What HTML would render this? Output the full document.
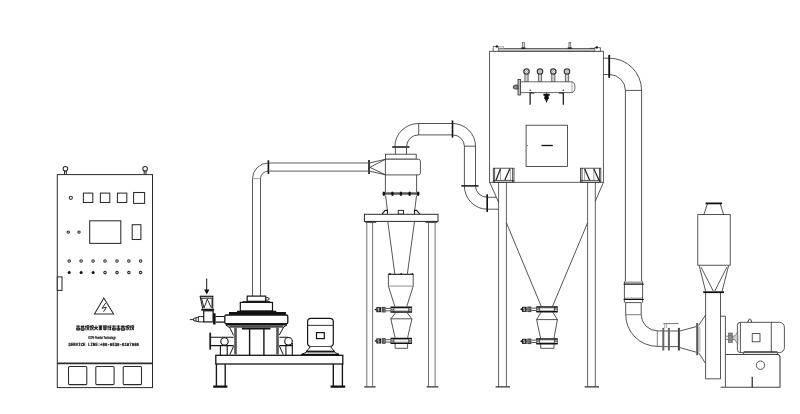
<!DOCTYPE html>
<html><head><meta charset="utf-8">
<style>
html,body{margin:0;padding:0;background:#fff;}
body{width:800px;height:414px;overflow:hidden;font-family:"Liberation Sans",sans-serif;}
svg{display:block;filter:grayscale(1);}
text{text-rendering:geometricPrecision;}
.l{fill:none;stroke:#2a2a2a;stroke-width:0.8;stroke-linejoin:miter;stroke-linecap:butt;}
.w{fill:#fff;stroke:#2a2a2a;stroke-width:0.8;}
#cabinet .l,#cabinet .w{stroke-width:1.05;stroke:#2c2c2c;}
#mill .l,#mill .w{stroke:#151515;}
.t{fill:none;stroke:#111;stroke-width:1.8;}
.t2{fill:none;stroke:#111;stroke-width:1.4;}
.g{fill:#999;stroke:#222;stroke-width:0.8;}
.k{fill:#111;stroke:none;}
</style></head><body>
<svg width="800" height="414" viewBox="0 0 800 414">
<rect width="800" height="414" fill="#fff"/>

<!-- ================= CABINET ================= -->
<g id="cabinet">
<rect class="l" x="57.3" y="174.6" width="95.2" height="213" style="stroke-width:1"/>
<circle class="l" cx="65.4" cy="168.8" r="2.3"/><path class="l" d="M64.5 170.8V174.6M66.3 170.8V174.6"/>
<circle class="l" cx="145.1" cy="168.8" r="2.3"/><path class="l" d="M144.2 171V174.6M146 171V174.6"/>
<circle class="l" cx="70.8" cy="197.8" r="1.6"/>
<rect class="l" x="83.4" y="193.1" width="9.4" height="9.4"/>
<rect class="l" x="100.4" y="193.1" width="9.4" height="9.4"/>
<rect class="l" x="117.4" y="193.1" width="9.4" height="9.4"/>
<rect class="l" x="133.6" y="192.5" width="11" height="10.9"/>
<circle class="l" cx="68.3" cy="232.1" r="1.2"/><circle class="l" cx="79" cy="232.1" r="1.2"/>
<rect class="l" x="89.7" y="220.8" width="31.1" height="22.6"/>
<rect class="l" x="132.2" y="224.7" width="8.7" height="14.8"/>
<g class="l" stroke-width="0.8">
<circle cx="69.2" cy="261" r="1.25"/><circle cx="81.1" cy="261" r="1.25"/><circle cx="93.1" cy="261" r="1.25"/><circle cx="105" cy="261" r="1.25"/><circle cx="117" cy="261" r="1.25"/><circle cx="128.9" cy="261" r="1.25"/><circle cx="140.6" cy="261" r="1.25"/>
<circle cx="105" cy="272.6" r="1.25"/><circle cx="117" cy="272.6" r="1.25"/><circle cx="128.9" cy="272.6" r="1.25"/><circle cx="140.6" cy="272.6" r="1.25"/>
</g>
<circle class="k" cx="69.2" cy="272.6" r="1.5"/><circle class="k" cx="81.1" cy="272.6" r="1.5"/><circle class="k" cx="93.1" cy="272.6" r="1.5"/>
<rect class="w" x="57.3" y="276.9" width="4.7" height="13.5"/>
<path class="l" d="M103.8 298L113.6 313.9H94.5Z"/>
<path class="l" d="M105.7 303L102 308.2L106.4 307.4L103.5 311.8" style="stroke-width:1"/>
<path class="l" d="M57.3 363.3H152.5" style="stroke-width:1.7"/>
<rect class="l" x="68.5" y="366.5" width="18.3" height="18.1" rx="1"/>
<rect class="l" x="95.8" y="366.5" width="18.3" height="18.1" rx="1"/>
<rect class="l" x="123.2" y="366.5" width="18.3" height="18.1" rx="1"/>
<!-- fake CJK text -->
<g id="cjk"><path d="M76.10 326.13L80.00 326.13M78.05 325.40L78.05 330.30M76.10 328.09L80.00 328.09M76.49 330.05L79.61 330.05M76.69 328.09L76.69 330.05M79.42 328.09L79.42 330.05M80.58 326.38L84.48 326.38M81.75 325.40L81.75 327.60M83.31 325.40L83.31 327.60M80.97 327.85L84.09 327.85M80.97 327.85L80.97 330.30M84.09 327.85L84.09 330.30M80.97 329.07L84.09 329.07M80.97 330.30L84.09 330.30M85.85 325.40L85.85 330.30M85.07 326.62L86.63 326.62M87.02 325.64L88.97 325.64M87.21 325.64L87.21 327.85M88.77 325.64L88.77 327.85M87.02 327.85L88.97 327.85M87.99 327.85L87.02 330.30M87.99 327.85L88.97 330.30M90.33 325.40L90.33 330.30M89.55 326.62L91.11 326.62M91.50 325.64L93.45 325.64M91.70 325.64L91.70 327.85M93.26 325.64L93.26 327.85M91.50 327.85L93.45 327.85M92.48 327.85L91.50 330.30M92.48 327.85L93.45 330.30M95.99 325.40L95.99 327.36M94.04 327.36L97.94 327.36M95.99 327.36L94.23 330.30M95.99 327.36L97.74 330.30M95.01 328.83L96.96 328.83M98.52 325.89L102.42 325.89M99.30 325.89L99.30 329.81M101.64 325.89L101.64 329.81M99.30 327.85L101.64 327.85M99.30 329.81L101.64 329.81M100.47 325.89L100.47 329.81M103.01 325.89L106.91 325.89M103.79 325.89L103.79 329.81M106.13 325.89L106.13 329.81M103.79 327.85L106.13 327.85M103.79 329.81L106.13 329.81M104.96 325.89L104.96 329.81M108.08 325.40L108.08 330.30M107.49 326.87L108.86 326.87M109.25 325.89L111.39 325.89M109.25 327.60L111.39 327.60M110.22 325.89L110.22 330.30M109.25 329.32L111.39 329.32M111.98 326.13L115.88 326.13M113.93 325.40L113.93 330.30M111.98 328.09L115.88 328.09M112.37 330.05L115.49 330.05M112.56 328.09L112.56 330.05M115.29 328.09L115.29 330.05M116.46 326.13L120.36 326.13M118.41 325.40L118.41 330.30M116.46 328.09L120.36 328.09M116.85 330.05L119.97 330.05M117.05 328.09L117.05 330.05M119.78 328.09L119.78 330.05M120.95 326.38L124.85 326.38M122.12 325.40L122.12 327.60M123.68 325.40L123.68 327.60M121.34 327.85L124.46 327.85M121.34 327.85L121.34 330.30M124.46 327.85L124.46 330.30M121.34 329.07L124.46 329.07M121.34 330.30L124.46 330.30M126.21 325.40L126.21 330.30M125.43 326.62L126.99 326.62M127.38 325.64L129.33 325.64M127.58 325.64L127.58 327.85M129.14 325.64L129.14 327.85M127.38 327.85L129.33 327.85M128.36 327.85L127.38 330.30M128.36 327.85L129.33 330.30M130.70 325.40L130.70 330.30M129.92 326.62L131.48 326.62M131.87 325.64L133.82 325.64M132.06 325.64L132.06 327.85M133.62 325.64L133.62 327.85M131.87 327.85L133.82 327.85M132.84 327.85L131.87 330.30M132.84 327.85L133.82 330.30" fill="none" stroke="#111" stroke-width="0.9"/></g>
<text x="102" y="338.6" text-anchor="middle" font-family="Liberation Sans, sans-serif" font-weight="bold" font-style="italic" font-size="4.1" textLength="27.4" lengthAdjust="spacingAndGlyphs" fill="#111" stroke="#111" stroke-width="0.18">KCPA Powder Technology</text>
<text x="68.5" y="345.8" font-family="Liberation Mono, monospace" font-weight="bold" font-size="4.6" textLength="70.5" lengthAdjust="spacingAndGlyphs" fill="#111" stroke="#111" stroke-width="0.2">SERVICE LINE:+86-0530-6107066</text>
</g>

<!-- ================= MILL ================= -->
<g id="mill">
<!-- base frame -->
<rect class="w" x="215.8" y="355.3" width="127" height="8.7" style="stroke-width:1.3"/>
<path class="l" d="M216.4 364V386M225.2 364V386M333.3 364V386M342.4 364V386" style="stroke-width:1.35"/>
<path class="t" d="M213.2 386.6H227.4M330.6 386.6H345.2" style="stroke-width:2.2"/>
<!-- vertical pipe -->
<path class="l" d="M252.5 296V178.7A15.9 15.7 0 0 1 268.4 163M260.5 296V178.7A7.9 7.6 0 0 1 268.4 171.1" style="stroke:#333;stroke-width:0.8"/>
<path class="l" d="M252.5 178.7H260.5" style="stroke:#777;stroke-width:0.7"/>
<!-- mill top cap -->
<rect class="w" x="247.2" y="296.1" width="18.5" height="5.2" style="stroke-width:1.2"/>
<rect class="w" x="265.7" y="297.6" width="3.3" height="2.6" rx="1.2" style="stroke-width:1"/>
<path class="l" d="M242.6 301.7H270.2" style="stroke-width:1"/>
<rect class="w" x="240.3" y="302.4" width="32.2" height="8.6" style="stroke-width:1.2"/>
<!-- ring -->
<path class="k" d="M237 310.7H276.3V312.1H285.9V315.4H229V312.1H237Z"/>
<rect class="w" x="224.8" y="315" width="63" height="8.8" rx="1.6" style="stroke-width:1.3"/>
<rect class="k" x="226" y="323.2" width="60.6" height="2.3"/>
<rect x="229.4" y="325.4" width="53.8" height="2.3" fill="#4a4a4a"/>
<rect class="k" x="241.9" y="327.7" width="28.6" height="1.8"/>
<path class="l" d="M225.6 325L229.9 327.8L233.6 335.5M229.9 354.6L233.6 346.2M287 325L283.7 327L279.3 335M279.3 345.7L283.2 354.6" style="stroke-width:1"/>
<!-- body walls -->
<path d="M235.5 327.5V354.6M277.5 327.5V354.6" stroke="#555" stroke-width="2.6" fill="none"/>
<path class="l" d="M249.6 329V355M263.9 329V355" style="stroke-width:1.4"/>
<!-- side pipes -->
<path d="M210.2 332.6V349.6" stroke="#222" stroke-width="1.8" fill="none"/>
<path class="l" d="M211 337.2H233.6M211 345.6H233.6M279.4 337.2H288M279.4 345.6H292.4" style="stroke-width:1.1"/>
<circle class="w" cx="224.5" cy="341.4" r="3.7" style="stroke-width:1.1"/>
<path class="l" d="M220.4 345.6V355M227.2 345.6V355" style="stroke-width:1.1"/>
<circle class="w" cx="288.5" cy="341.3" r="3.8" style="stroke-width:1.1"/>
<path class="l" d="M285.9 345.6V355M292.3 343V355" style="stroke-width:1.1"/>
<!-- feeder -->
<path class="l" d="M206.7 278.5V291" style="stroke-width:1"/>
<path class="k" d="M204.1 289.4H209.4L206.75 294.6Z"/>
<path class="l" d="M199.8 296.3H213.3" style="stroke-width:1.2"/>
<path class="l" d="M200.1 296.4L202.7 308.6M212.8 296.4V308.6M200.6 298.2H212.8" style="stroke-width:1"/>
<path class="l" d="M201.6 298.4L204 307.9L207.3 299.2L211.4 307.9M212 298.4V308" style="stroke-width:0.9"/>
<path d="M201.3 309.7H214.1" stroke="#111" stroke-width="1.9" fill="none"/>
<rect class="w" x="203.7" y="310.8" width="9.4" height="11.1" style="stroke-width:1.2"/>
<path class="l" d="M203.7 316.6H198.4V321.9H203.7M198.4 317L193.6 318.6V320.6L198.4 321.7M196 317.8V321.2M193.6 319.6H189.8" style="stroke-width:0.9"/>
<rect class="k" x="213.1" y="313.3" width="2.5" height="11.2"/>
<path class="l" d="M215.6 316.5H224.6M215.6 322.1H224.6" style="stroke-width:1.1"/>
<!-- motor -->
<rect class="w" x="307.6" y="318.4" width="25.7" height="28.1" rx="3.4" style="stroke-width:1.2"/>
<path class="l" d="M307.6 325.4H333.3" style="stroke-width:1.1;stroke:#444"/>
<rect class="l" x="316.5" y="332.6" width="7.8" height="6" style="stroke-width:1.2"/>
<path class="w" d="M310.4 346.8L306.4 351.4H334.4L330.6 346.8" style="stroke-width:1"/>
<path d="M306 351.6H334.8" stroke="#1a1a1a" stroke-width="1.8" fill="none"/>
<path class="l" d="M306 352.4L301.6 354.4M334.8 352.4L339 354.4" style="stroke-width:1"/>
<path d="M301.2 354.5H339.2" stroke="#111" stroke-width="1.5" fill="none"/>
</g>

<!-- ================= PIPE to cyclone ================= -->
<g id="pipe1">
<path class="t2" d="M268.4 160.3V173.9M369 160V173.9" style="stroke-width:1.6"/>
<path class="l" d="M268.4 163H369M268.4 171.1H369" style="stroke:#555;stroke-width:0.95"/>
<path class="l" d="M369.8 162.9L385.4 159.3L369.8 167.4L385.4 174.8L369.8 171.2"/>
</g>

<!-- ================= CYCLONE ================= -->
<g id="cyclone">
<!-- top outlet pipe -->
<path class="t2" d="M392.2 147H409.6" style="stroke-width:1.5"/>
<path class="l" d="M395.4 147.6V154.2M406.5 147.6V154.2"/>
<path class="l" d="M394.9 146.4A23.8 22.9 0 0 1 418.7 123.5H452.5M406.6 146.4A12.1 11.5 0 0 1 418.7 134.9H452.5"/>
<path class="l" d="M418.7 123.5V134.9"/>
<path class="t2" d="M452.5 120.4V137.6" style="stroke-width:1.6"/>
<path class="l" d="M452.5 123.5A23 22.7 0 0 1 475.5 146.2V186M452.5 134.9A11.9 11.3 0 0 1 464.4 146.2V186M464.4 146.2H475.5"/>
<path class="t2" d="M461.3 185.9H478.6" style="stroke-width:1.5"/>
<path class="l" d="M464.4 186A22.8 23.2 0 0 0 487.2 209.2M475.5 186A11.7 11.2 0 0 0 487.2 197.2"/>
<path class="t2" d="M487.2 194.3V212" style="stroke-width:1.6"/>
<path class="l" d="M487.2 197.3H496.2M487.2 209.2H498.6"/>
<!-- head -->
<rect class="w" x="385.4" y="154.2" width="30.8" height="5"/>
<path class="w" d="M385.4 159.2H418.4A2 2 0 0 1 420.4 161.2V172.9A2 2 0 0 1 418.4 174.9H385.4Z"/>
<path class="l" d="M385.4 174.7V192.4M416.6 174.7V192.4"/>
<rect x="382.7" y="192.3" width="36.7" height="2.4" fill="#555"/>
<g class="k"><ellipse cx="383.9" cy="193.7" rx="1.25" ry="2.3"/><ellipse cx="392.4" cy="193.7" rx="1.25" ry="2.3"/><ellipse cx="400.9" cy="193.7" rx="1.25" ry="2.3"/><ellipse cx="409.6" cy="193.7" rx="1.25" ry="2.3"/><ellipse cx="418.1" cy="193.7" rx="1.25" ry="2.3"/></g>
<path class="l" d="M385.6 195.5L387.4 210.5M416.5 195.5L414.7 210.5"/>
<path class="l" d="M382 214.2L385.1 210.4H387.4V214.2M419.9 214.2L416.6 210.4H414.5V214.2" style="stroke-width:1.1;stroke:#222"/>
<rect class="l" x="398.3" y="210.4" width="5.2" height="3.8" style="stroke-width:1"/>
<!-- platform -->
<rect class="w" x="364.4" y="214.3" width="73.6" height="7.1" style="stroke-width:1"/>
<path d="M365.4 222.2H376.2M425.6 222.2H437.2" stroke="#222" stroke-width="1.3" fill="none"/>
<path class="l" d="M366.8 222.7V386.6M372.6 222.7V386.6M428.5 222.7V386.6M435.1 222.7V386.6" style="stroke:#444;stroke-width:0.75"/>
<path class="t" d="M364.2 386.9H375.6M426.6 386.9H438.4" style="stroke:#333;stroke-width:1.2"/>
<!-- cone -->
<path class="l" d="M387.8 221.6L394.8 273.8M414.5 221.6L407.4 273.8"/>
<path class="t2" d="M388 274.3H413.6" style="stroke-width:1.1"/>
<g class="k"><circle cx="389.9" cy="273.7" r="0.8"/><circle cx="401.2" cy="273.7" r="0.8"/><circle cx="412.3" cy="273.7" r="0.8"/></g>
<path class="l" d="M388.4 274.6V286.1L394.8 306.4M413.2 274.6V286.1L406.8 306.4"/>
<path class="l" d="M388.4 286.1H413.2" style="stroke:#777"/>
</g>

<defs>
<g id="valve">
  <path class="l" d="M-10.3 0.4V5.8M10.3 0.4V5.8M-7.4 0.4V5.8M7.4 0.4V5.8"/>
  <path d="M-10.6 0.7H10.6M-10.6 5.5H10.6" fill="none" stroke="#111" stroke-width="1.5"/>
  <path d="M-7.4 1.9H7.4M-7.4 4.3H7.4" fill="none" stroke="#666" stroke-width="0.5"/>
  <circle cx="-8.8" cy="3.1" r="0.8" class="l" style="stroke-width:0.7"/><circle cx="8.8" cy="3.1" r="0.8" class="l" style="stroke-width:0.7"/>
  <path class="l" d="M-10.4 1.9H-15.7M-10.4 4.3H-15.7" style="stroke-width:0.8"/>
  <rect x="-19.6" y="0.4" width="3.9" height="5.5" fill="#2a2a2a"/>
  <path d="M-18.3 1V5.3M-17 1V5.3" stroke="#ddd" stroke-width="0.5" fill="none"/>
  <rect x="-25" y="0.6" width="4.7" height="5.1" fill="#1c1c1c"/>
  <path d="M-22 1.9H-23.4V3.1H-22.2V4.4H-23.6" stroke="#fff" stroke-width="0.65" fill="none"/>
  <path d="M-27 3.1L-25 1.9V4.3Z" fill="#111"/>
</g>
</defs>

<!-- cyclone valves -->
<g id="cyv">
<use href="#valve" x="401.3" y="306.5"/>
<path class="l" d="M395.7 312.6L390.8 318.8L395.1 337.8M407 312.6L411.9 318.8L407.6 337.8M390.8 318.8H411.9"/>
<use href="#valve" x="401.3" y="337.8"/>
<path class="l" d="M395.1 343.8V348.3H407.6V343.8"/>
</g>

<!-- ================= DUST COLLECTOR ================= -->
<g id="collector">
<rect class="l" x="489.6" y="51.3" width="113.8" height="131" style="stroke:#4a4a4a;stroke-width:0.9"/>
<rect x="493.2" y="48.4" width="107.1" height="2.8" fill="#c4c4c4" stroke="#333" stroke-width="0.7"/>
<rect x="493.2" y="46.6" width="5.3" height="4.6" fill="#fff" stroke="#555" stroke-width="0.7"/>
<rect x="498.5" y="46.8" width="5.3" height="1.6" fill="#e4e4e4" stroke="#777" stroke-width="0.5"/>
<rect x="594.9" y="47.4" width="5.3" height="3.8" fill="#fff" stroke="#555" stroke-width="0.7"/>
<path class="l" d="M589.5 48.3H594.9" style="stroke-width:0.6"/>
<circle class="k" cx="496.8" cy="46.4" r="1.2"/><circle class="k" cx="596.8" cy="47.4" r="1.2"/>
<rect x="522.5" y="42.4" width="1.9" height="5.6" fill="#ccc" stroke="#555" stroke-width="0.6"/>
<rect x="568.9" y="42.4" width="1.9" height="5.6" fill="#ccc" stroke="#555" stroke-width="0.6"/>
<path class="t2" d="M521.2 48.1H525.6M567.7 48.1H572" style="stroke-width:1.1"/>
<!-- pulse valves -->
<g id="pv">
<path d="M524.9 73.4V81.8H528.1V73.4Z" fill="#d0d0d0" stroke="#333" stroke-width="0.7"/>
<circle cx="526.5" cy="71.5" r="2.65" fill="#fff" stroke="#3a3a3a" stroke-width="1.3"/><circle cx="526.5" cy="71.5" r="1" fill="#fff" stroke="#444" stroke-width="0.45"/>
</g>
<use href="#pv" x="13.5"/><use href="#pv" x="26.8"/><use href="#pv" x="40.5"/>
<path class="w" d="M520.1 81.8H572A3 5.4 0 0 1 572 92.6H520.1Z" style="stroke:#444"/>
<path class="l" d="M572 81.8V92.6" style="stroke-width:0.6;stroke:#666"/>
<rect x="518" y="79.4" width="2.5" height="15.6" fill="#bbb" stroke="#333" stroke-width="0.8"/>
<path d="M518 85.1H515L513.4 86V88.2L515 89H518Z" fill="#888" stroke="#333" stroke-width="0.8"/>
<path class="t2" d="M530.1 92.6V104.7M563.3 92.6V104.7" style="stroke-width:1.2"/>
<path class="t2" d="M530.1 93H534.4M563.3 93H559" style="stroke-width:1.1"/>
<circle class="k" cx="530.2" cy="90.2" r="0.7"/><circle class="k" cx="563.2" cy="90.2" r="0.7"/>
<path class="k" d="M543.4 93.8H549.7V95.8H548.6V97.4H549V98.8H548.2L546.55 103L544.9 98.8H544.1V97.4H544.5V95.8H543.4Z"/>
<path class="l" d="M546.55 92.6V94"/>
<!-- door -->
<rect class="l" x="526.1" y="125.2" width="41.5" height="41.3"/>
<path class="t" d="M541.5 145.5H552.8" style="stroke-width:1.3"/>
<path class="l" d="M526.8 145.5H528" style="stroke-width:0.6"/>
<!-- brackets -->
<rect class="l" x="493.3" y="168.2" width="20.7" height="14"/>
<path class="l" d="M493.3 180.4H514M494.6 168.2V182M512.6 168.2V182"/>
<path class="l" d="M500.5 168.2V180.4M510.3 168.2V180.4" style="stroke-width:0.6;stroke:#666"/>
<path class="l" d="M496.1 180L500.5 168.7M504.9 180L509.8 168.7" style="stroke-width:1.3"/>
<rect class="l" x="580.6" y="168.2" width="20.2" height="14"/>
<path class="l" d="M580.6 180.4H600.8M582 168.2V182M599.5 168.2V182"/>
<path class="l" d="M584.7 168.2V180.4M593.8 168.2V180.4" style="stroke-width:0.6;stroke:#666"/>
<path class="l" d="M584.7 168.7L589.6 180.3M593.8 168.7L599 180.3" style="stroke-width:1.3"/>
<!-- legs -->
<path class="l" d="M498.6 182.2V386.6M506.4 182.2V386.6M587.6 182.2V386.6M595.3 182.2V386.6" style="stroke:#3a3a3a"/>
<path class="t" d="M495.6 386.9H510M584.6 386.9H599" style="stroke:#333;stroke-width:1.2"/>
<path class="l" d="M489.7 182.2L498.6 202.4M603.5 182.2L595.3 201.2"/>
<path class="l" d="M506.4 222.8L541.1 306M587.6 222.8L552.7 306"/>
<!-- valves -->
<use href="#valve" x="547" y="306.2"/>
<path class="l" d="M541.1 312.2L536.6 319.6L540.6 338.4M552.9 312.2L557.4 319.6L554 338.4M536.6 319.6H557.4"/>
<use href="#valve" x="547" y="338.2"/>
<path class="l" d="M540.7 344V348.3H554V344"/>
</g>

<!-- ================= RIGHT PIPE ================= -->
<g id="pipe2">
<path class="l" d="M603.5 58.2H609.3M603.5 74.5H609.3"/>
<path class="t" d="M609.2 54.9V77.8" style="stroke-width:1.8"/>
<path class="l" d="M609.3 58.2A32.3 32.2 0 0 1 641.6 90.4V281.3M609.3 74.5A16.1 15.9 0 0 1 625.4 90.4V281.3M625.4 90.4H641.6"/>
<rect x="624.4" y="281.5" width="18.2" height="21.1" fill="#fff" stroke="none"/>
<rect x="624.4" y="281.5" width="18.2" height="2.4" fill="#a0a0a0"/>
<rect x="624.4" y="297.6" width="18.2" height="1.5" fill="#a0a0a0"/>
<path class="l" d="M624.4 281.3V302.6M642.6 281.3V302.6M625.3 302.6H641.4"/>
<path d="M623.6 284.3H643.8M623.6 299.5H643.8" stroke="#111" stroke-width="1.1" fill="none"/>
<path class="l" d="M625.7 302.6V314.5A31.9 31.9 0 0 0 657.6 346.4H662.5M641.2 302.6V314.5A16.4 16.4 0 0 0 657.6 330.9H662.5"/>
<path class="l" d="M625.7 314.7H641.2M657.3 330.9V346.4" style="stroke-width:0.6"/>
<!-- damper -->
<path class="l" d="M662.4 331H679M662.4 346.6H679" style="stroke-width:0.8"/>
<rect x="662.3" y="327.9" width="2" height="22.6" fill="#666"/>
<rect x="667.9" y="327.9" width="2" height="22.6" fill="#666"/>
<rect x="677.9" y="327.9" width="2" height="22.6" fill="#444"/>
<path d="M663.3 323.6H678.6" stroke="#777" stroke-width="1" fill="none"/>
<path d="M664.7 324V328M666.6 324V328" stroke="#777" stroke-width="0.6" fill="none"/>
<path class="l" d="M679.9 331L696.2 326.6M679.9 347.6L696.2 352.2"/>
</g>

<!-- ================= FAN ================= -->
<g id="fan">
<rect x="698" y="326.6" width="2.5" height="25.2" fill="#c4c4c4"/>
<rect x="696.2" y="323" width="1.9" height="32.2" fill="#555"/>
<path class="l" d="M698.5 325.7L705.3 315.3M698.5 352.5L705.3 363.1"/>
<!-- silencer -->
<path class="t" d="M705.6 203.4H722"/>
<path class="l" d="M707.3 204L703.9 214.6M720.3 204L723.6 214.6"/>
<rect class="l" x="697.8" y="214.6" width="32.4" height="50.6"/>
<path class="l" d="M699.2 265.6L705.7 291.6M728.6 265.6L722 291.6M701 267L713.2 291M727 267L714.8 291"/>
<path class="t" d="M703.2 292.2H724"/>
<!-- casing -->
<path class="l" d="M705.6 293V378.8H720.5V293"/>
<path class="l" d="M720.5 316.2H725.4V387.2"/>
<path class="l" d="M720.5 387.2H780V356.5L778.4 354.5H725.4" style="stroke-width:1.1;stroke:#444"/>
<circle class="l" cx="760.5" cy="365.2" r="4.2"/>
<path class="t2" d="M752.2 376.8V387.2" style="stroke-width:1.1"/>
<!-- motor -->
<path class="w" d="M740.4 322.3H779.4A5 5 0 0 1 784.4 327.3V347.6A5 5 0 0 1 779.4 352.6H740.4A3 3 0 0 1 737.4 349.6V325.3A3 3 0 0 1 740.4 322.3Z"/>
<path class="l" d="M740.4 322.3V352.6M771.3 322.3V352.6M743.6 351.6H777.4"/>
<path class="l" d="M743.6 353V354.4M777.4 353V354.4"/>
<path class="l" d="M747.8 322.3L749 319.4A0.9 0.9 0 0 1 750.6 319.4L751.8 322.3" style="stroke-width:0.9"/>
<rect class="l" x="752.2" y="333.6" width="7.8" height="8.2"/>
<!-- coupling -->
<path class="l" d="M725.4 336.2H728.3M725.4 339.3H728.3" style="stroke:#555"/>
<path d="M732.4 336.2H734C735.6 335.8 736.4 333 737.8 332.2V343.8C736.4 343 735.6 340 734 339.4H732.4Z" fill="#cfcfcf" stroke="#555" stroke-width="0.7"/>
<rect x="728.3" y="333" width="4.1" height="9.7" fill="#8c8c8c" stroke="#666" stroke-width="0.6"/>
<path d="M728.3 335.4H732.4M728.3 340.2H732.4" stroke="#666" stroke-width="0.5" fill="none"/>
</g>

</svg>
</body></html>
